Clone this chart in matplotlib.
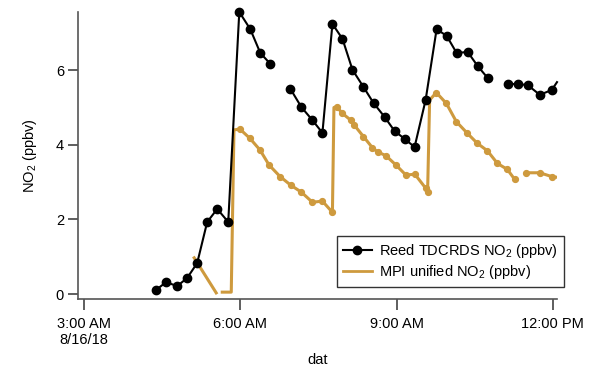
import numpy as np
import matplotlib.pyplot as plt
from matplotlib.lines import Line2D

plt.rcParams['font.family'] = ['Liberation Sans', 'DejaVu Sans']
plt.rcParams['mathtext.default'] = 'regular'

# hours after midnight, 8/16/18 (nan = gap in record)
reed_hours = [4.385, 4.577, 4.788, 4.981, 5.173, 5.365, 5.558, 5.769, 5.981,
              6.192, 6.385, 6.577, 6.77, 6.962, 7.173, 7.385, 7.577, 7.769,
              7.962, 8.154, 8.365, 8.558, 8.769, 8.962, 9.154, 9.346, 9.558,
              9.769, 9.962, 10.154, 10.365, 10.558, 10.75, 10.94, 11.135,
              11.327, 11.519, 11.75, 11.98, 12.08]
reed_no2 = [0.11, 0.32, 0.21, 0.43, 0.83, 1.93, 2.28, 1.93, 7.56,
            7.10, 6.46, 6.17, np.nan, 5.50, 5.01, 4.66, 4.32, 7.24,
            6.84, 6.01, 5.55, 5.12, 4.75, 4.37, 4.16, 3.94, 5.20,
            7.10, 6.92, 6.46, 6.49, 6.11, 5.79, np.nan, 5.63,
            5.63, 5.60, 5.34, 5.47, 5.68]

mpi_hours = [5.115, 5.538, 5.60, 5.654, 5.827, 5.879,
             5.994, 6.187, 6.379, 6.552, 6.763, 6.967, 7.173, 7.385, 7.577, 7.769,
             7.798, 7.852, 7.962, 8.121, 8.187, 8.365, 8.538, 8.635, 8.794,
             8.987, 9.179, 9.352, 9.563, 9.596,
             9.635, 9.763, 9.956, 10.148, 10.358, 10.55, 10.744, 10.937,
             11.127, 11.269, 11.38, 11.494, 11.75, 11.975, 12.077]
mpi_no2 = [0.97, 0.03, np.nan, 0.05, 0.05, 4.40,
           4.42, 4.17, 3.86, 3.46, 3.15, 2.92, 2.73, 2.46, 2.49, 2.19,
           5.00, 5.02, 4.84, 4.66, 4.53, 4.22, 3.92, 3.81, 3.71,
           3.46, 3.19, 3.21, 2.83, 2.74,
           5.20, 5.40, 5.11, 4.62, 4.31, 4.04, 3.84, 3.50,
           3.34, 3.07, np.nan, 3.25, 3.25, 3.15, 3.13]

tick_hours = [3, 6, 9, 12]
tick_labels = ['3:00 AM\n8/16/18', '6:00 AM', '9:00 AM', '12:00 PM']

fig = plt.figure(figsize=(5.89, 3.73), dpi=100)
ax = fig.add_axes([78/589, 74/373, 479/589, 287/373])

orange = '#CE9A3E'
ax.plot(mpi_hours, mpi_no2, color=orange, lw=2.2, marker='o', ms=4.2,
        markevery=[i for i in range(len(mpi_hours)) if i not in (0, 1, 3, 4, 5, 16, 30, 44)],
        zorder=2)
ax.plot(reed_hours, reed_no2, color='black', lw=1.5, marker='o', ms=6,
        markevery=list(range(len(reed_hours) - 1)), clip_on=False, zorder=3)

ax.set_xlim(2.885, 12.08)
ax.set_ylim(-0.134, 7.56)

ax.set_xticks(tick_hours)
ax.set_xticklabels(tick_labels)
ax.set_yticks([0, 2, 4, 6])

for side in ['top', 'right']:
    ax.spines[side].set_visible(False)
for side in ['left', 'bottom']:
    ax.spines[side].set_color('#555555')
    ax.spines[side].set_linewidth(1.2)

ax.tick_params(axis='x', direction='out', length=8, width=1.1, color='#333333',
               labelsize=10.5, pad=5)
ax.tick_params(axis='y', direction='out', length=7, width=1.1, color='#333333',
               labelsize=10.5, pad=3)

ax.set_ylabel('NO$_2$ (ppbv)', fontsize=10.5, labelpad=12)
ax.set_xlabel('dat', fontsize=10.5, labelpad=4)

handles = [Line2D([], [], color='black', lw=1.5, marker='o', ms=6),
           Line2D([], [], color=orange, lw=2.0)]
labels = ['Reed TDCRDS NO$_2$ (ppbv)', 'MPI unified NO$_2$ (ppbv)']
leg = ax.legend(handles, labels, loc='upper left',
                bbox_to_anchor=(337/589, 1 - 236/373), bbox_transform=fig.transFigure,
                borderaxespad=0, fontsize=10.5, fancybox=False, frameon=True,
                handlelength=2.0, handletextpad=0.5, borderpad=0.4, labelspacing=0.2)
leg.get_frame().set_edgecolor('black')
leg.get_frame().set_linewidth(1.0)

plt.savefig('out.png', dpi=100)
